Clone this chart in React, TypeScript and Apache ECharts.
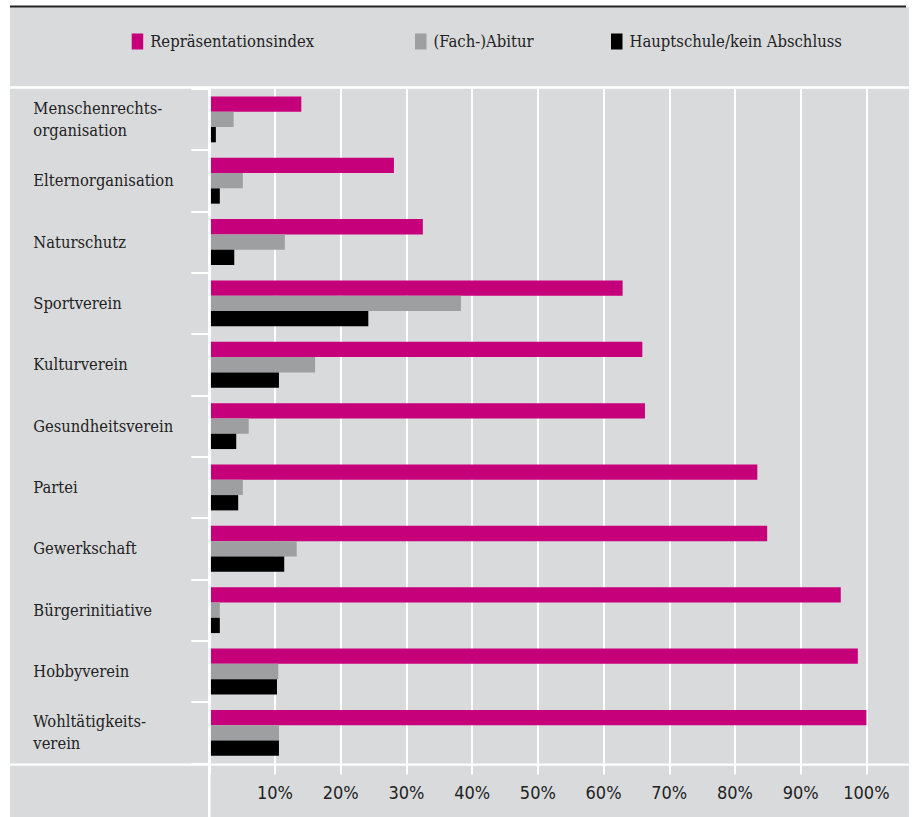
import React, { useEffect, useRef } from "react";
import * as echarts from "echarts";

const categories = [
  "Menschenrechts-\norganisation",
  "Elternorganisation",
  "Naturschutz",
  "Sportverein",
  "Kulturverein",
  "Gesundheitsverein",
  "Partei",
  "Gewerkschaft",
  "Bürgerinitiative",
  "Hobbyverein",
  "Wohltätigkeits-\nverein",
];
const seriesNames = ["Repräsentationsindex", "(Fach-)Abitur", "Hauptschule/kein Abschluss"];
const repIndex = [14.0, 28.1, 32.5, 62.9, 65.9, 66.3, 83.4, 84.9, 96.1, 98.7, 100.0];
const abitur = [3.7, 5.1, 11.5, 38.3, 16.1, 6.0, 5.1, 13.3, 1.6, 10.5, 10.6];
const hauptschule = [1.0, 1.6, 3.8, 24.2, 10.6, 4.1, 4.4, 11.4, 1.6, 10.3, 10.6];
const xMin = 0;
const xMax = 100;
const xInterval = 10;

const PINK = "#C6007B";
const GREY = "#9E9FA1";
const BLACK = "#000000";
const BG = "#D9DADC";
const TXT = "#222222";
const SERIF = "'DejaVu Serif Condensed', 'DejaVu Serif', serif";
const NARROW = "'Liberation Sans Narrow', 'DejaVu Sans Condensed', sans-serif";

export default function App() {
  const ref = useRef<HTMLDivElement>(null);
  useEffect(() => {
    if (!ref.current) return;
    const chart = echarts.init(ref.current, null, { renderer: "svg" });
    const legendBase = {
      top: 33,
      padding: 0,
      itemWidth: 11.5,
      itemHeight: 16,
      icon: "rect",
      selectedMode: false,
      textStyle: { fontFamily: SERIF, fontSize: 16.5, color: TXT, padding: [0, 0, 0, 2] },
    };
    chart.setOption({
      animation: false,
      backgroundColor: "#ffffff",
      legend: [
        { ...legendBase, left: 131.7, data: [seriesNames[0]] },
        { ...legendBase, left: 415, data: [seriesNames[1]] },
        { ...legendBase, left: 611, data: [seriesNames[2]] },
      ],
      grid: { left: 209.3, top: 88.7, right: 913 - 866.4, bottom: 817 - 763.5, containLabel: false },
      xAxis: {
        type: "value",
        min: xMin,
        max: xMax,
        interval: xInterval,
        axisLine: { show: false },
        axisTick: { show: true, length: 11, lineStyle: { color: "#ffffff", width: 2 } },
        splitLine: { show: true, lineStyle: { color: "#ffffff", width: 2 } },
        axisLabel: {
          formatter: (v: number) => (v === 0 ? "" : v + "%"),
          fontFamily: NARROW,
          fontSize: 18,
          color: TXT,
          margin: 20,
        },
      },
      yAxis: {
        type: "category",
        inverse: true,
        z: 10,
        data: categories,
        axisLine: { show: true, lineStyle: { color: "#ffffff", width: 2.6 } },
        axisTick: { show: true, length: 18, interval: 0, lineStyle: { color: "#ffffff", width: 2 } },
        splitLine: { show: false },
        axisLabel: {
          align: "left",
          margin: 176,
          interval: 0,
          fontFamily: SERIF,
          fontSize: 16.4,
          lineHeight: 22,
          padding: [3, 0, 0, 0],
          color: TXT,
        },
      },
      series: [
        { name: seriesNames[0], type: "bar", data: repIndex, barWidth: 15.3, barGap: "0%", itemStyle: { color: PINK } },
        { name: seriesNames[1], type: "bar", data: abitur, barWidth: 15.3, barGap: "0%", itemStyle: { color: GREY } },
        { name: seriesNames[2], type: "bar", data: hauptschule, barWidth: 15.3, barGap: "0%", itemStyle: { color: BLACK } },
      ],
      graphic: {
        elements: [
          { type: "rect", z: -10, shape: { x: 10, y: 7.3, width: 899, height: 817 - 7.3 }, style: { fill: BG } },
          { type: "line", z: 100, shape: { x1: 10, y1: 6.5, x2: 906, y2: 6.5 }, style: { stroke: "#222222", lineWidth: 1.8 } },
          { type: "line", z: 100, shape: { x1: 10, y1: 87.5, x2: 909, y2: 87.5 }, style: { stroke: "#ffffff", lineWidth: 2.4 } },
          { type: "line", z: 100, shape: { x1: 10, y1: 764.6, x2: 909, y2: 764.6 }, style: { stroke: "#ffffff", lineWidth: 2.4 } },
          { type: "line", z: 100, shape: { x1: 209.3, y1: 87.5, x2: 209.3, y2: 817 }, style: { stroke: "#ffffff", lineWidth: 2.6 } },
        ],
      },
    });
    return () => chart.dispose();
  }, []);
  return <div ref={ref} style={{ position: "absolute", left: 0, top: 0, width: 913, height: 817 }} />;
}
